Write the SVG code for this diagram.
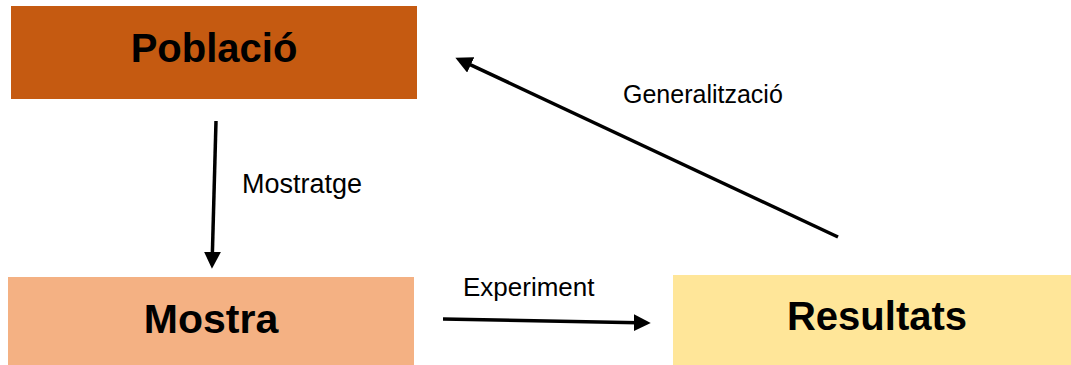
<svg xmlns="http://www.w3.org/2000/svg" width="1071" height="365" viewBox="0 0 1071 365">
<style>
.title{font-family:"Liberation Sans",Arial,sans-serif;font-weight:bold;font-size:40px;fill:#000;text-anchor:middle}
.lbl{font-family:"Liberation Sans",Arial,sans-serif;font-size:25px;fill:#000}
.conn{stroke:#000;stroke-width:3.5;fill:none;marker-end:url(#ah)}
</style>
<defs>
<marker id="ah" markerUnits="userSpaceOnUse" markerWidth="17" markerHeight="17" viewBox="0 0 16 16" refX="4" refY="8" orient="auto">
<path d="M0,0 L16,8 L0,16 z" fill="#000"/>
</marker>
</defs>
<rect width="1071" height="365" fill="#fff"/>
<g id="poblacio">
<rect x="11" y="6" width="406" height="93" fill="#C55A11"/>
<text class="title" x="214" y="62">Població</text>
</g>
<g id="mostra">
<rect x="8" y="277" width="406" height="88" fill="#F4B183"/>
<text class="title" x="211" y="333" style="font-size:41px">Mostra</text>
</g>
<g id="resultats">
<rect x="673" y="275" width="398" height="90" fill="#FFE699"/>
<text class="title" x="877" y="330">Resultats</text>
</g>
<g id="connectors">
<line class="conn" x1="216" y1="121" x2="212.3" y2="256"/>
<line class="conn" x1="443" y1="319" x2="638" y2="322.8"/>
<line class="conn" x1="838" y1="237" x2="466.9" y2="63.1"/>
<text class="lbl" x="242" y="193" style="font-size:27px">Mostratge</text>
<text class="lbl" x="463" y="296" style="font-size:26px">Experiment</text>
<text class="lbl" x="623" y="103">Generalització</text>
</g>
</svg>
